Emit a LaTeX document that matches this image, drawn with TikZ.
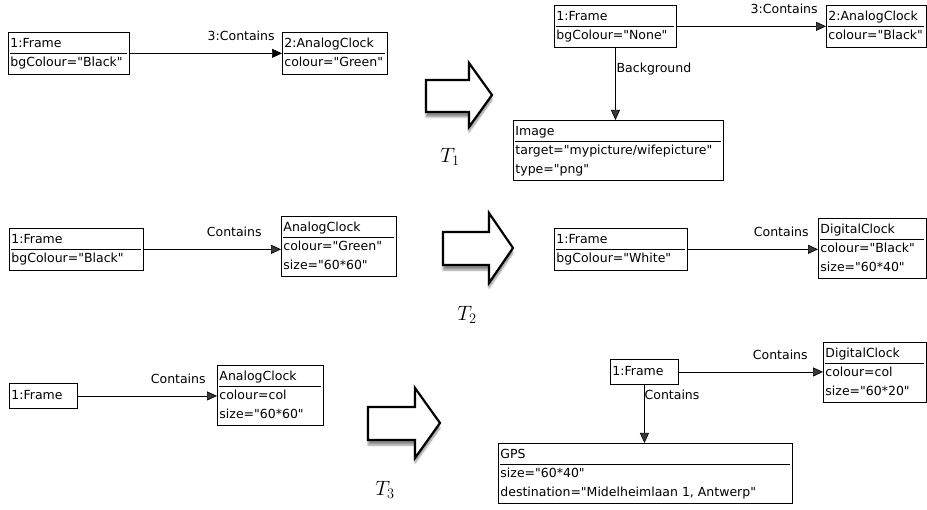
\documentclass[tikz,border=0pt]{standalone}
\usepackage{fontspec}
\newfontfamily\objfont{DejaVu Sans}
\usepackage{tikz}
\usetikzlibrary{arrows.meta,positioning,shadows.blur}
\setlength{\arrayrulewidth}{0.8pt}
\newcommand{\objrows}[3]{\begin{tabular}{@{}p{#1}@{}}#2\\\hline #3\end{tabular}}
\newcommand{\objname}[2]{\begin{tabular}{@{}p{#1}@{}}#2\end{tabular}}

\begin{document}
\begin{tikzpicture}[x=1pt,y=-1pt]
  \tikzstyle{obj}=[draw,line width=0.9pt,anchor=north west,inner sep=2pt,font=\objfont\fontsize{12.5}{18.5}\selectfont]
  \tikzstyle{link}=[line width=0.7pt,-{Triangle[length=10pt,width=9pt]}]
  \tikzstyle{lbl}=[inner sep=0pt,font=\objfont\fontsize{12.5}{14}\selectfont]
  \tikzstyle{bigarrow}=[line width=2.2pt,fill=white,line join=miter,blur shadow={shadow xshift=0pt,shadow yshift=-5pt,shadow blur steps=8,shadow opacity=45}]
  \tikzstyle{tlabel}=[font=\fontsize{20}{24}\selectfont]
  \useasboundingbox (0,0) rectangle (927,510);

  \node[obj] (f1l) at (8,32) {\objrows{117pt}{1:Frame}{bgColour="Black"}};
  \node[obj] (c1l) at (282,32) {\objrows{101pt}{2:AnalogClock}{colour="Green"}};
  \draw[link] (f1l.east) -- (f1l.east -| c1l.west) node[lbl,above left=12pt and 7pt] {3:Contains};

  \draw[bigarrow] (426,80) -- (469,80) -- (469,63) -- (492,95) -- (469,127) -- (469,112) -- (426,112) -- cycle;
  \node[tlabel] (t1) at (450,157) {$T_1$};

  \node[obj] (f1r) at (554,5) {\objrows{118pt}{1:Frame}{bgColour="None"}};
  \node[obj] (c1r) at (826,5) {\objrows{96pt}{2:AnalogClock}{colour="Black"}};
  \node[obj] (i1r) at (513,120) {\objrows{206pt}{Image}{target="mypicture/wifepicture"\\type="png"}};
  \draw[link] (f1r.east) -- (f1r.east -| c1r.west) node[lbl,above left=12pt and 8pt] {3:Contains};
  \draw[link] (f1r.south) -- (f1r.south |- i1r.north);
  \node[lbl,below right=15pt and 1pt of f1r.south] (bg1) {Background};

  \node[obj] (f2l) at (9,228) {\objrows{130pt}{1:Frame}{bgColour="Black"}};
  \node[obj] (c2l) at (281,216) {\objrows{111pt}{AnalogClock}{colour="Green"\\size="60*60"}};
  \draw[link] (f2l.east) -- (f2l.east -| c2l.west) node[lbl,above left=12pt and 19pt] {Contains};

  \draw[bigarrow] (443,232) -- (489,232) -- (489,213) -- (513,248) -- (489,283) -- (489,265) -- (443,265) -- cycle;
  \node[tlabel] (t2) at (467,315) {$T_2$};

  \node[obj] (f2r) at (554,228) {\objrows{129pt}{1:Frame}{bgColour="White"}};
  \node[obj] (d2r) at (818,218) {\objrows{104pt}{DigitalClock}{colour="Black"\\size="60*40"}};
  \draw[link] (f2r.east) -- (f2r.east -| d2r.west) node[lbl,above left=12pt and 9pt] {Contains};

  \node[obj,minimum height=25pt] (f3l) at (9,383) {\objname{64pt}{1:Frame}};
  \node[obj] (c3l) at (217,365) {\objrows{102pt}{AnalogClock}{colour=col\\size="60*60"}};
  \draw[link] (f3l.east) -- (f3l.east -| c3l.west) node[lbl,above left=12pt and 11pt] {Contains};

  \draw[bigarrow] (368,407) -- (415,407) -- (415,388) -- (440,423) -- (415,458) -- (415,440) -- (368,440) -- cycle;
  \node[tlabel] (t3) at (385,490) {$T_3$};

  \node[obj,minimum height=25pt] (f3r) at (610,359) {\objname{64pt}{1:Frame}};
  \node[obj] (d3r) at (823,342) {\objrows{99pt}{DigitalClock}{colour=col\\size="60*20"}};
  \node[obj] (g3r) at (498,443) {\objrows{290pt}{GPS}{size="60*40"\\destination="Midelheimlaan 1, Antwerp"}};
  \draw[link] (f3r.east) -- (f3r.east -| d3r.west) node[lbl,above left=12pt and 15pt] {Contains};
  \draw[link] (f3r.south) -- (f3r.south |- g3r.north);
  \node[lbl,below right=5pt and 0pt of f3r.south] (ct3) {Contains};
\end{tikzpicture}
\end{document}
